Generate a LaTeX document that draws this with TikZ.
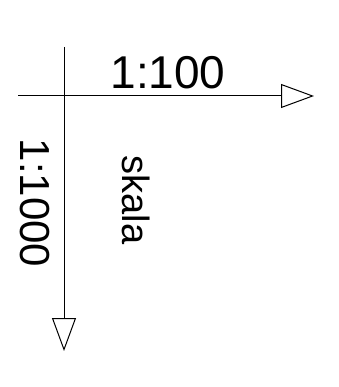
\documentclass[tikz,border=0pt]{standalone}
\usepackage{fontspec}
\setmainfont{Liberation Sans}
\usetikzlibrary{arrows.meta}
\tikzset{
  axis/.style     = {-{Triangle[open, length=33pt, width=24pt, line width=1pt]}, line width=1pt, black},
  scalelbl/.style = {inner sep=0pt, anchor=base, font=\fontsize{46}{50}\selectfont},
  word/.style     = {inner sep=0pt, anchor=base, font=\fontsize{38}{42}\selectfont},
}

\begin{document}
\begin{tikzpicture}[x=1pt, y=-1pt]
    \useasboundingbox (0,0) rectangle (338,387);
    \coordinate (hstart) at (18,96);
    \coordinate (hend) at (314,96);
    \coordinate (vstart) at (64,47);
    \coordinate (vend) at (64,351);
    \draw[axis] (hstart) -- (hend);
    \draw[axis] (vstart) -- (vend);
    \node[scalelbl] (hlbl) at (168,88.5) {1:100};
    \node[scalelbl, rotate=-90, font=\fontsize{42}{46}\selectfont] (vlbl) at (20,203) {1:1000};
    \node[word, rotate=-90] (skala) at (122,200) {skala};
  \end{tikzpicture}
\end{document}
